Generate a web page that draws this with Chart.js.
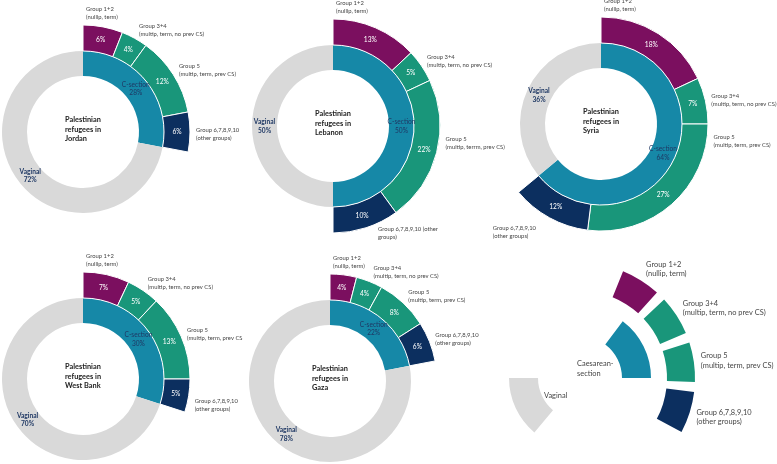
<!DOCTYPE html>
<html>
<head>
<meta charset="utf-8">
<script src="https://cdn.jsdelivr.net/npm/chart.js@4/dist/chart.umd.min.js"></script>
<style>
  html, body { margin: 0; padding: 0; background: #fff; }
  #wrap { position: relative; width: 777px; height: 464px; overflow: hidden; }
  #wrap canvas { position: absolute; left: 0; top: 0; }
</style>
</head>
<body>
<div id="wrap">
  <canvas id="c0" width="777" height="464"></canvas>
  <canvas id="c1" width="777" height="464"></canvas>
  <canvas id="c2" width="777" height="464"></canvas>
  <canvas id="c3" width="777" height="464"></canvas>
  <canvas id="c4" width="777" height="464"></canvas>
  <canvas id="legend" width="777" height="464"></canvas>
</div>
<script>
// data (% of births)
const countries = ['Jordan', 'Lebanon', 'Syria', 'West Bank', 'Gaza'];
const cSection = [28, 50, 64, 30, 22];
const vaginal = [72, 50, 36, 70, 78];
const group12 = [6, 13, 18, 7, 4];
const group34 = [4, 5, 7, 5, 4];
const group5 = [12, 22, 27, 13, 8];
const group610 = [6, 10, 12, 5, 6];

const groupNames = ['Group 1+2', 'Group 3+4', 'Group 5', 'Group 6,7,8,9,10'];
const groupDescs = ['(nullip, term)', '(multip, term, no prev CS)', '(multip, term, prev CS)', '(other groups)'];
// labels as printed in the original
const lebanonLabels = [null, null, ['Group 5', '(multip, terrm, prev CS)'], ['Group 6,7,8,9,10 (other', 'groups)']];
const westBankLabels = [null, null, ['Group 5', '(multip, term, prev CS'], null];

// legend key: angular spans in degrees (gap, piece, gap, ...)
const legendOuterSpans = [22, 20, 5, 20, 5, 20, 5, 21, 242];
const legendInnerSpans = [37, 53, 130, 50, 90];

const PURPLE = '#7b0f5f', GREEN = '#19967a', TEAL = '#1688a7', NAVY = '#0c2f5f', GREY = '#d9d9d9';
const TXT = '#454545', TXT_NAVY = '#1f3864';
const FONT = 'Lato, "Open Sans", sans-serif';

// where each donut sits on the page
const centers = [[83, 132], [333, 126], [601, 124], [83, 379], [330, 381]];
const W = 777, H = 464;

function padFor(cx, cy) {
  return {
    left: Math.max(0, 2 * cx - W), right: Math.max(0, W - 2 * cx),
    top: Math.max(0, 2 * cy - H), bottom: Math.max(0, H - 2 * cy)
  };
}

function arcInfo(arc) {
  const p = arc.getProps(['x', 'y', 'startAngle', 'endAngle', 'innerRadius', 'outerRadius'], true);
  p.mid = (p.startAngle + p.endAngle) / 2;
  p.span = p.endAngle - p.startAngle;
  return p;
}

// text squeezed a little, the original face is narrow
function text(ctx, t, x, y, sx) {
  ctx.save();
  ctx.translate(x, y);
  ctx.scale(sx, 1);
  ctx.fillText(t, 0, 0);
  ctx.restore();
}

function drawLines(ctx, lines, x, y, lh, sx) {
  lines.forEach((t, j) => text(ctx, t, x, y + j * lh, sx));
}

function widest(ctx, lines, sx) {
  return Math.max(...lines.map(t => ctx.measureText(t).width)) * sx;
}

function makeDonut(k) {
  const [cx, cy] = centers[k];
  const groups = [group12[k], group34[k], group5[k], group610[k]];
  const overrides = k === 1 ? lebanonLabels : k === 3 ? westBankLabels : [];

  const labels = {
    id: 'labels' + k,
    afterDraw(chart) {
      const ctx = chart.ctx;
      const outer = chart.getDatasetMeta(0).data;
      const inner = chart.getDatasetMeta(1).data;
      ctx.save();
      ctx.textBaseline = 'middle';

      groups.forEach((v, i) => {
        const a = arcInfo(outer[i]);
        const mr = (a.innerRadius + a.outerRadius) / 2;
        ctx.fillStyle = '#fff';
        ctx.font = '7px ' + FONT;
        ctx.textAlign = 'center';
        text(ctx, v + '%', a.x + Math.cos(a.mid) * mr, a.y + Math.sin(a.mid) * mr, 0.95);

        const lines = overrides[i] || [groupNames[i], groupDescs[i]];
        ctx.fillStyle = TXT;
        ctx.font = '6.5px ' + FONT;
        ctx.textAlign = 'left';
        if (i === 0) {
          drawLines(ctx, lines, a.x + 3, a.y - a.outerRadius - 16, 8, 0.9);
          return;
        }
        let ang = a.mid;
        const deg = (ang + Math.PI / 2) * 180 / Math.PI;
        const r = a.outerRadius + 3;
        if (deg > 180) {
          const px = a.x + Math.cos(ang) * r, py = a.y + Math.sin(ang) * r;
          drawLines(ctx, lines, px - 12 - widest(ctx, lines, 0.9), py + 8, 8, 0.9);
          return;
        }
        if (a.span > Math.PI / 3 && deg > 95) ang = 95 * Math.PI / 180 - Math.PI / 2;
        const px = a.x + Math.cos(ang) * r, py = a.y + Math.sin(ang) * r;
        const d2 = (ang + Math.PI / 2) * 180 / Math.PI;
        if (d2 > 120) {
          drawLines(ctx, lines, px + 11, py - 2, 8, 0.9);
          return;
        }
        const ly = py + 9 * Math.sin(ang) + 2 + (d2 > 92 ? 5 : 0);
        drawLines(ctx, lines, px + 3, ly - 4, 8, 0.9);
      });

      [['C-section', cSection[k], 'normal'], ['Vaginal', vaginal[k], 'bold']].forEach((d, i) => {
        const a = arcInfo(inner[i]);
        const mr = (a.innerRadius + a.outerRadius) / 2;
        const x = a.x + Math.cos(a.mid) * mr, y = a.y + Math.sin(a.mid) * mr;
        ctx.fillStyle = TXT_NAVY;
        ctx.textAlign = 'center';
        ctx.font = d[2] + ' 7.2px ' + FONT;
        text(ctx, d[0], x, y - 4, 0.92);
        text(ctx, d[1] + '%', x, y + 4.5, 0.92);
      });

      const title = ['Palestinian', 'refugees in', countries[k]];
      ctx.fillStyle = '#222';
      ctx.font = 'bold 8.2px ' + FONT;
      ctx.textAlign = 'left';
      const tw = widest(ctx, title, 0.9);
      const c = arcInfo(inner[0]);
      drawLines(ctx, title, c.x - tw / 2, c.y - 12.5, 9.5, 0.9);
      ctx.restore();
    }
  };

  new Chart(document.getElementById('c' + k).getContext('2d'), {
    type: 'doughnut',
    data: {
      labels: [...groupNames, 'rest'],
      datasets: [
        {
          data: [...groups, vaginal[k]],
          backgroundColor: [PURPLE, GREEN, GREEN, NAVY, 'rgba(0,0,0,0)'],
          borderColor: '#fff',
          borderWidth: [1, 1, 1, 1, 0],
          weight: 26
        },
        {
          data: [cSection[k], vaginal[k]],
          backgroundColor: [TEAL, GREY],
          borderWidth: 0,
          weight: 25
        }
      ]
    },
    options: {
      responsive: false,
      animation: false,
      events: [],
      radius: 107,
      cutout: (56 / 107 * 100) + '%',
      layout: { padding: padFor(cx, cy) },
      plugins: { legend: { display: false }, tooltip: { enabled: false } }
    },
    plugins: [labels]
  });
}

countries.forEach((c, k) => makeDonut(k));

// legend key (bottom right)
const legendLabels = {
  id: 'legendLabels',
  afterDraw(chart) {
    const ctx = chart.ctx;
    const outer = chart.getDatasetMeta(0).data;
    const inner = chart.getDatasetMeta(2).data;
    const sx = 0.93;
    ctx.save();
    ctx.textBaseline = 'middle';
    ctx.fillStyle = TXT;
    ctx.font = '8px ' + FONT;
    ctx.textAlign = 'left';
    [1, 3, 5, 7].forEach((idx, i) => {
      const a = arcInfo(outer[idx]);
      const r = a.outerRadius + 4;
      const px = a.x + Math.cos(a.mid) * r, py = a.y + Math.sin(a.mid) * r;
      const ly = py + 10 * Math.sin(a.mid);
      drawLines(ctx, [groupNames[i], groupDescs[i]], px + 3, ly - 4.5, 9.5, sx);
    });
    const cs = arcInfo(inner[1]);
    let px = cs.x + Math.cos(cs.mid) * cs.innerRadius, py = cs.y + Math.sin(cs.mid) * cs.innerRadius;
    const lines = ['Caesarean-', 'section'];
    drawLines(ctx, lines, px - 4 - widest(ctx, lines, sx), py + 4, 10, sx);
    const vg = arcInfo(inner[3]);
    px = vg.x + Math.cos(vg.mid) * vg.innerRadius;
    py = vg.y + Math.sin(vg.mid) * vg.innerRadius;
    text(ctx, 'Vaginal', px + 2, py, sx);
    ctx.restore();
  }
};

const T = 'rgba(0,0,0,0)';
new Chart(document.getElementById('legend').getContext('2d'), {
  type: 'doughnut',
  data: {
    datasets: [
      {
        data: legendOuterSpans,
        backgroundColor: [T, PURPLE, T, GREEN, T, GREEN, T, NAVY, T],
        borderWidth: 0,
        weight: 28
      },
      { data: [1], backgroundColor: [T], borderWidth: 0, weight: 16 },
      {
        data: legendInnerSpans,
        backgroundColor: [T, TEAL, T, GREY, T],
        borderWidth: 0,
        weight: 29
      }
    ]
  },
  options: {
    responsive: false,
    animation: false,
    events: [],
    radius: 115,
    cutout: (42 / 115 * 100) + '%',
    layout: { padding: padFor(580, 378) },
    plugins: { legend: { display: false }, tooltip: { enabled: false } }
  },
  plugins: [legendLabels]
});
</script>
</body>
</html>
